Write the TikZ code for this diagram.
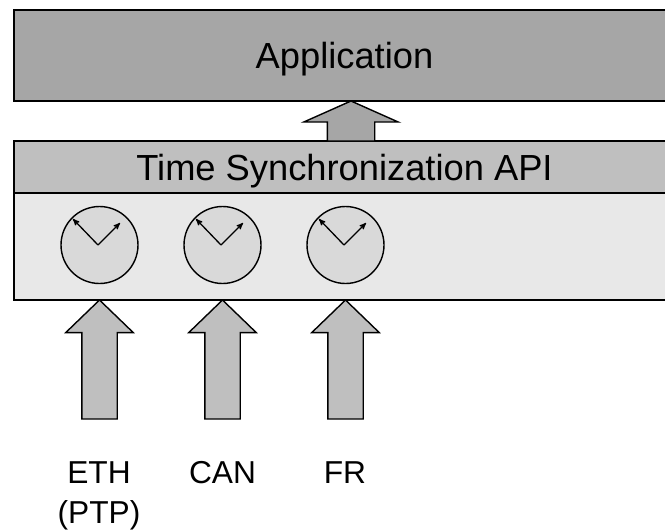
\documentclass[tikz,border=0pt]{standalone}
\usepackage{fontspec}
\setmainfont{Liberation Sans}
\usetikzlibrary{shapes.arrows}
\usetikzlibrary{arrows}
\definecolor{appgray}{HTML}{A6A6A6}
\definecolor{apigray}{HTML}{BFBFBF}
\definecolor{clockbg}{HTML}{E8E8E8}
\definecolor{clockgray}{HTML}{D9D9D9}

\begin{document}
\begin{tikzpicture}[x=1pt,y=-1pt,->,>=stealth',semithick]
\tikzset{font=\fontsize{31.7pt}{40pt}\selectfont}
\tikzstyle{layer}=[draw=black,line width=2pt,anchor=north west,minimum width=661pt,inner sep=0pt,outer sep=0pt]
\tikzstyle{layertext}=[font=\fontsize{36.3pt}{40pt}\selectfont,text height=26pt,text depth=0pt]
\tikzstyle{clock}=[circle,draw=black,fill=clockgray,line width=1.4pt,minimum size=77pt,inner sep=0pt]
\tikzstyle{busarrow}=[single arrow,draw=black,fill=apigray,line width=1.4pt,rotate=90,anchor=tip,inner xsep=0pt,inner ysep=17pt,outer sep=0pt,
                      minimum width=66pt,minimum height=119pt,single arrow head extend=16pt,single arrow tip angle=92]
\tikzstyle{hand}=[line width=1.3pt]
\tikzstyle{bus}=[anchor=north,inner sep=0pt,align=center]

  \useasboundingbox (0,0) rectangle (665,531);

        \node[layer,layertext,fill=appgray,minimum height=91pt]      (app)   at (14,10)     {Application};
        \node[layer,layertext,fill=apigray,minimum height=52pt]      (api)   at (14,141)    {Time Synchronization API};
        \node[layer,fill=clockbg,minimum height=107pt]               (lower) at (14,193)    {};

        \node[clock]                                                 (clk1)  at (99.5,245)  {};
        \node[clock,node distance=123pt]                             (clk2)  [right of=clk1] {};
        \node[clock,node distance=123pt]                             (clk3)  [right of=clk2] {};

        \coordinate (hub1) at ([xshift=-1.5pt]clk1.center);
        \coordinate (hub2) at ([xshift=-1.5pt]clk2.center);
        \coordinate (hub3) at ([xshift=-1.5pt]clk3.center);

        \path[->,hand]
        (hub1)   edge      ([shift={(-25,-26)}]hub1)
        (hub1)   edge      ([shift={(22,-22)}]hub1)
        (hub2)   edge      ([shift={(-25,-26)}]hub2)
        (hub2)   edge      ([shift={(22,-22)}]hub2)
        (hub3)   edge      ([shift={(-25,-26)}]hub3)
        (hub3)   edge      ([shift={(22,-22)}]hub3)
        ; %end path

        \node[busarrow]                                              (in1)   at (clk1 |- lower.south) {};
        \node[busarrow]                                              (in2)   at (clk2 |- lower.south) {};
        \node[busarrow]                                              (in3)   at (clk3 |- lower.south) {};

        \node[busarrow,fill=appgray,inner ysep=23pt,minimum width=93pt,minimum height=40pt,single arrow head extend=23.5pt,single arrow tip angle=132]
                                                                     (out)   at (351,101)   {};

        \node[bus]                                                   (eth)   at (99,461)    {ETH\\(PTP)};
        \node[bus]                                                   (can)   at (222.5,461) {CAN};
        \node[bus]                                                   (fr)    at (345,461)   {FR};

\end{tikzpicture}
\end{document}
